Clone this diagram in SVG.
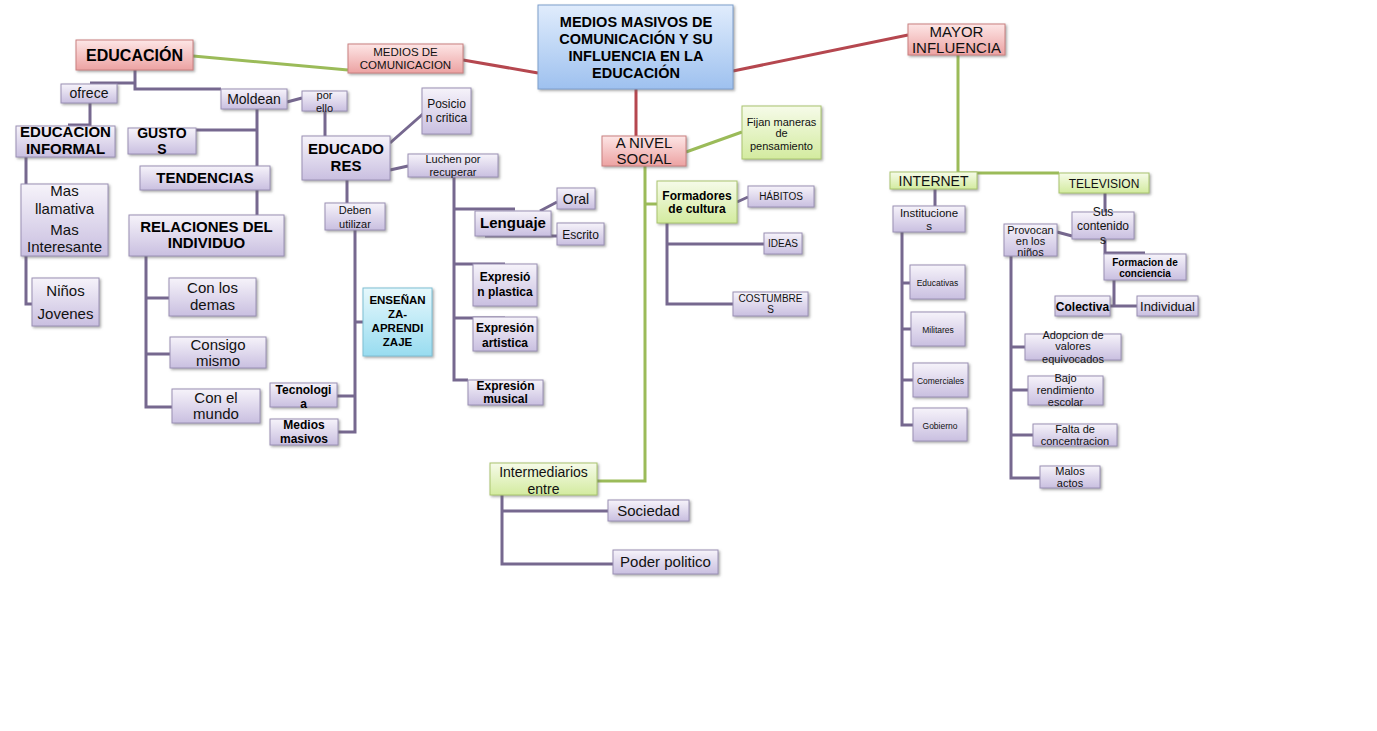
<svg xmlns="http://www.w3.org/2000/svg" width="1377" height="731" viewBox="0 0 1377 731">
<defs>
<linearGradient id="gp" x1="0" y1="0" x2="0" y2="1"><stop offset="0" stop-color="#f6f3fa"/><stop offset="1" stop-color="#c9bfe0"/></linearGradient>
<linearGradient id="gg" x1="0" y1="0" x2="0" y2="1"><stop offset="0" stop-color="#f6fbe9"/><stop offset="1" stop-color="#d3eb9f"/></linearGradient>
<linearGradient id="gr" x1="0" y1="0" x2="0" y2="1"><stop offset="0" stop-color="#fde6e6"/><stop offset="1" stop-color="#eca2a2"/></linearGradient>
<linearGradient id="gb" x1="0" y1="0" x2="0" y2="1"><stop offset="0" stop-color="#e0ecfc"/><stop offset="1" stop-color="#9ec1ef"/></linearGradient>
<linearGradient id="gc" x1="0" y1="0" x2="0" y2="1"><stop offset="0" stop-color="#e6f8fc"/><stop offset="1" stop-color="#98dcf0"/></linearGradient>
<filter id="sh" x="-10%" y="-10%" width="130%" height="140%"><feDropShadow dx="1.5" dy="1.5" stdDeviation="1" flood-color="#666" flood-opacity="0.55"/></filter>
</defs>
<style>
rect{filter:url(#sh);stroke-width:1}
.p{fill:url(#gp);stroke:#9a90b4}
.g{fill:url(#gg);stroke:#a9c46e}
.r{fill:url(#gr);stroke:#c98080}
.b{fill:url(#gb);stroke:#7f9fcc}
.c{fill:url(#gc);stroke:#7fbfd4}
text{font-family:"Liberation Sans",Arial,sans-serif;fill:#111;text-anchor:middle}
.bd{font-weight:bold;fill:#000}
.cp{fill:none;stroke:#76688f;stroke-width:3}
.cg{fill:none;stroke:#9bbb59;stroke-width:3}
.cr{fill:none;stroke:#b5474f;stroke-width:3}
</style>
<rect x="0" y="0" width="1377" height="731" fill="#fff" style="filter:none"/>
<g id="connectors">
<path class="cr" d="M463,60 L538,73 M733,71 L908,35 M636,89 V136"/>
<path class="cg" d="M193,56 L348,70 M686,152 L742,132 M645,166 V481 H597 M645,204 H657 M958,55 V173 H1059"/>
<path class="cp" d="M135,70 V89 H221 M135,83 H90 M90,103 V125 H68 M26,157 V304 H32 M287,102 L302,98 M257,109 V215 M196,130 H257 M146,256 V407 H172 M146,298 H169 M146,354 H170 M325,111 V136 M390,143 L424,113 M390,170 L408,166 M347,180 V203 M355,230 V432 H336 M355,396 H337 M355,322 H363 M454,177 V380 H468 M454,209 H515 M454,264 H505 M454,318 H505 M540,211 L557,202 M485,236 H557 M667,223 V304 H733 M667,244 H764 M737,202 L748,197 M502,495 V564 H613 M502,511 H608 M935,189 V206 M902,232 V425 H913 M902,283 H910 M902,329 H911 M902,380 H913 M1105,193 V212 M1057,232 L1072,236 M1105,239 V253 H1145 M1114,280 V306 H1137 M1110,306 H1114 M1011,256 V478 H1040 M1011,347 H1025 M1011,390 H1028 M1011,435 H1033"/>
</g>
<g id="central"><rect class="b" x="538" y="5" width="195" height="84"/><text class="bd" font-size="14.5" x="636"><tspan x="636" y="27">MEDIOS MASIVOS DE</tspan><tspan x="636" y="44">COMUNICACIÓN Y SU</tspan><tspan x="636" y="61">INFLUENCIA EN LA</tspan><tspan x="636" y="78">EDUCACIÓN</tspan></text></g>
<g id="medios-com"><rect class="r" x="348" y="44" width="115" height="29"/><text font-size="11.5"><tspan x="405.5" y="56">MEDIOS DE</tspan><tspan x="405.5" y="69">COMUNICACION</tspan></text></g>
<g id="educacion"><rect class="r" x="76" y="40" width="117" height="30"/><text class="bd" font-size="16" x="134.5" y="61">EDUCACIÓN</text></g>
<g id="mayor"><rect class="r" x="908" y="24" width="97" height="31"/><text font-size="15"><tspan x="956.5" y="37">MAYOR</tspan><tspan x="956.5" y="53">INFLUENCIA</tspan></text></g>
<g id="nivel-social"><rect class="r" x="602" y="136" width="84" height="30"/><text font-size="15"><tspan x="644" y="148">A NIVEL</tspan><tspan x="644" y="164">SOCIAL</tspan></text></g>
<g id="fijan"><rect class="g" x="742" y="106" width="79" height="53"/><text font-size="11"><tspan x="781.5" y="126">Fijan maneras</tspan><tspan x="781.5" y="137">de</tspan><tspan x="781.5" y="150">pensamiento</tspan></text></g>
<g id="formadores"><rect class="g" x="657" y="181" width="80" height="42"/><text class="bd" font-size="12"><tspan x="697" y="200">Formadores</tspan><tspan x="697" y="213">de cultura</tspan></text></g>
<g id="habitos"><rect class="p" x="748" y="186" width="66" height="21"/><text font-size="10" x="781" y="200">HÁBITOS</text></g>
<g id="ideas"><rect class="p" x="764" y="233" width="38" height="21"/><text font-size="10" x="783" y="247">IDEAS</text></g>
<g id="costumbres"><rect class="p" x="733" y="292" width="75" height="24"/><text font-size="10"><tspan x="770.5" y="302">COSTUMBRE</tspan><tspan x="770.5" y="313">S</tspan></text></g>
<g id="intermediarios"><rect class="g" x="490" y="463" width="107" height="32"/><text font-size="14"><tspan x="543.5" y="477">Intermediarios</tspan><tspan x="543.5" y="494">entre</tspan></text></g>
<g id="sociedad"><rect class="p" x="608" y="500" width="81" height="21"/><text font-size="15" x="648.5" y="516">Sociedad</text></g>
<g id="poder"><rect class="p" x="613" y="550" width="105" height="24"/><text font-size="15" x="665.5" y="567">Poder politico</text></g>
<g id="internet"><rect class="g" x="890" y="172" width="87" height="17"/><text font-size="14" x="933.5" y="186">INTERNET</text></g>
<g id="television"><rect class="g" x="1059" y="173" width="90" height="20"/><text font-size="12" x="1104" y="188">TELEVISION</text></g>
<g id="instituciones"><rect class="p" x="893" y="206" width="72" height="26"/><text font-size="11.5"><tspan x="929" y="217">Institucione</tspan><tspan x="929" y="230">s</tspan></text></g>
<g id="educativas"><rect class="p" x="910" y="265" width="55" height="34"/><text font-size="8.5" x="937.5" y="286">Educativas</text></g>
<g id="militares"><rect class="p" x="911" y="312" width="54" height="34"/><text font-size="8.5" x="938" y="333">Militares</text></g>
<g id="comerciales"><rect class="p" x="913" y="363" width="55" height="34"/><text font-size="8.5" x="940.5" y="384">Comerciales</text></g>
<g id="gobierno"><rect class="p" x="913" y="408" width="54" height="33"/><text font-size="8.5" x="940" y="429">Gobierno</text></g>
<g id="sus-contenidos"><rect class="p" x="1072" y="212" width="62" height="27"/><text font-size="12"><tspan x="1103" y="216">Sus</tspan><tspan x="1103" y="230">contenido</tspan><tspan x="1103" y="244">s</tspan></text></g>
<g id="provocan"><rect class="p" x="1004" y="224" width="53" height="32"/><text font-size="11"><tspan x="1030.5" y="234">Provocan</tspan><tspan x="1030.5" y="245">en los</tspan><tspan x="1030.5" y="256">niños</tspan></text></g>
<g id="formacion"><rect class="p" x="1104" y="254" width="82" height="26"/><text class="bd" font-size="10"><tspan x="1145" y="265.5">Formacion de</tspan><tspan x="1145" y="276.5">conciencia</tspan></text></g>
<g id="colectiva"><rect class="p" x="1055" y="296" width="55" height="20"/><text class="bd" font-size="12" x="1082.5" y="311">Colectiva</text></g>
<g id="individual"><rect class="p" x="1137" y="296" width="61" height="20"/><text font-size="13" x="1167.5" y="311">Individual</text></g>
<g id="adopcion"><rect class="p" x="1025" y="334" width="96" height="26"/><text font-size="11"><tspan x="1073" y="339">Adopcion de</tspan><tspan x="1073" y="350">valores</tspan><tspan x="1073" y="363">equivocados</tspan></text></g>
<g id="bajo"><rect class="p" x="1028" y="376" width="75" height="29"/><text font-size="11"><tspan x="1065.5" y="382">Bajo</tspan><tspan x="1065.5" y="394">rendimiento</tspan><tspan x="1065.5" y="406">escolar</tspan></text></g>
<g id="falta"><rect class="p" x="1033" y="424" width="84" height="22"/><text font-size="11"><tspan x="1075" y="433">Falta de</tspan><tspan x="1075" y="445">concentracion</tspan></text></g>
<g id="malos"><rect class="p" x="1040" y="466" width="60" height="22"/><text font-size="11"><tspan x="1070" y="475">Malos</tspan><tspan x="1070" y="487">actos</tspan></text></g>
<g id="ofrece"><rect class="p" x="61" y="84" width="56" height="19"/><text font-size="14" x="89" y="98">ofrece</text></g>
<g id="educ-informal"><rect class="p" x="16" y="126" width="99" height="31"/><text class="bd" font-size="15"><tspan x="65.5" y="137">EDUCACION</tspan><tspan x="65.5" y="154">INFORMAL</tspan></text></g>
<g id="mas"><rect class="p" x="21" y="184" width="87" height="72"/><text font-size="15"><tspan x="64.5" y="196">Mas</tspan><tspan x="64.5" y="214">llamativa</tspan><tspan x="64.5" y="235">Mas</tspan><tspan x="64.5" y="252">Interesante</tspan></text></g>
<g id="ninos"><rect class="p" x="32" y="278" width="67" height="48"/><text font-size="15"><tspan x="65.5" y="296">Niños</tspan><tspan x="65.5" y="319">Jovenes</tspan></text></g>
<g id="moldean"><rect class="p" x="221" y="89" width="66" height="20"/><text font-size="14" x="254" y="104">Moldean</text></g>
<g id="por-ello"><rect class="p" x="302" y="91" width="45" height="20"/><text font-size="11"><tspan x="324.5" y="99">por</tspan><tspan x="324.5" y="112">ello</tspan></text></g>
<g id="gustos"><rect class="p" x="128" y="128" width="68" height="26"/><text class="bd" font-size="14"><tspan x="162" y="138">GUSTO</tspan><tspan x="162" y="154">S</tspan></text></g>
<g id="tendencias"><rect class="p" x="140" y="166" width="130" height="24"/><text class="bd" font-size="15" x="205" y="183">TENDENCIAS</text></g>
<g id="relaciones"><rect class="p" x="129" y="215" width="155" height="41"/><text class="bd" font-size="15"><tspan x="206.5" y="232">RELACIONES DEL</tspan><tspan x="206.5" y="248">INDIVIDUO</tspan></text></g>
<g id="con-demas"><rect class="p" x="169" y="278" width="87" height="38"/><text font-size="15"><tspan x="212.5" y="293">Con los</tspan><tspan x="212.5" y="310">demas</tspan></text></g>
<g id="consigo"><rect class="p" x="170" y="337" width="96" height="31"/><text font-size="15"><tspan x="218" y="350">Consigo</tspan><tspan x="218" y="366">mismo</tspan></text></g>
<g id="con-mundo"><rect class="p" x="172" y="389" width="88" height="34"/><text font-size="15"><tspan x="216" y="403">Con el</tspan><tspan x="216" y="419">mundo</tspan></text></g>
<g id="educadores"><rect class="p" x="302" y="136" width="88" height="44"/><text class="bd" font-size="15"><tspan x="346" y="154">EDUCADO</tspan><tspan x="346" y="171">RES</tspan></text></g>
<g id="posicion"><rect class="p" x="422" y="88" width="49" height="46"/><text font-size="12"><tspan x="446.5" y="108">Posicio</tspan><tspan x="446.5" y="122">n critica</tspan></text></g>
<g id="luchen"><rect class="p" x="408" y="154" width="90" height="23"/><text font-size="11"><tspan x="453" y="163">Luchen por</tspan><tspan x="453" y="176">recuperar</tspan></text></g>
<g id="deben"><rect class="p" x="325" y="203" width="60" height="27"/><text font-size="11"><tspan x="355" y="214">Deben</tspan><tspan x="355" y="228">utilizar</tspan></text></g>
<g id="ensenanza"><rect class="c" x="363" y="288" width="69" height="68"/><text class="bd" font-size="11.5"><tspan x="397.5" y="304">ENSEÑAN</tspan><tspan x="397.5" y="318">ZA-</tspan><tspan x="397.5" y="332">APRENDI</tspan><tspan x="397.5" y="346">ZAJE</tspan></text></g>
<g id="tecnologia"><rect class="p" x="270" y="383" width="67" height="24"/><text class="bd" font-size="12"><tspan x="303.5" y="394">Tecnologi</tspan><tspan x="303.5" y="408">a</tspan></text></g>
<g id="medios-masivos"><rect class="p" x="270" y="419" width="68" height="26"/><text class="bd" font-size="12"><tspan x="304" y="429">Medios</tspan><tspan x="304" y="443">masivos</tspan></text></g>
<g id="lenguaje"><rect class="p" x="475" y="211" width="76" height="25"/><text class="bd" font-size="15" x="513" y="228">Lenguaje</text></g>
<g id="oral"><rect class="p" x="557" y="188" width="38" height="21"/><text font-size="14" x="576" y="204">Oral</text></g>
<g id="escrito"><rect class="p" x="557" y="223" width="47" height="22"/><text font-size="12" x="580.5" y="239">Escrito</text></g>
<g id="exp-plastica"><rect class="p" x="473" y="264" width="64" height="42"/><text class="bd" font-size="12"><tspan x="505" y="281">Expresió</tspan><tspan x="505" y="296">n plastica</tspan></text></g>
<g id="exp-artistica"><rect class="p" x="473" y="317" width="64" height="34"/><text class="bd" font-size="12"><tspan x="505" y="332">Expresión</tspan><tspan x="505" y="347">artistica</tspan></text></g>
<g id="exp-musical"><rect class="p" x="468" y="380" width="75" height="25"/><text class="bd" font-size="12"><tspan x="505.5" y="390">Expresión</tspan><tspan x="505.5" y="403">musical</tspan></text></g>
</svg>
